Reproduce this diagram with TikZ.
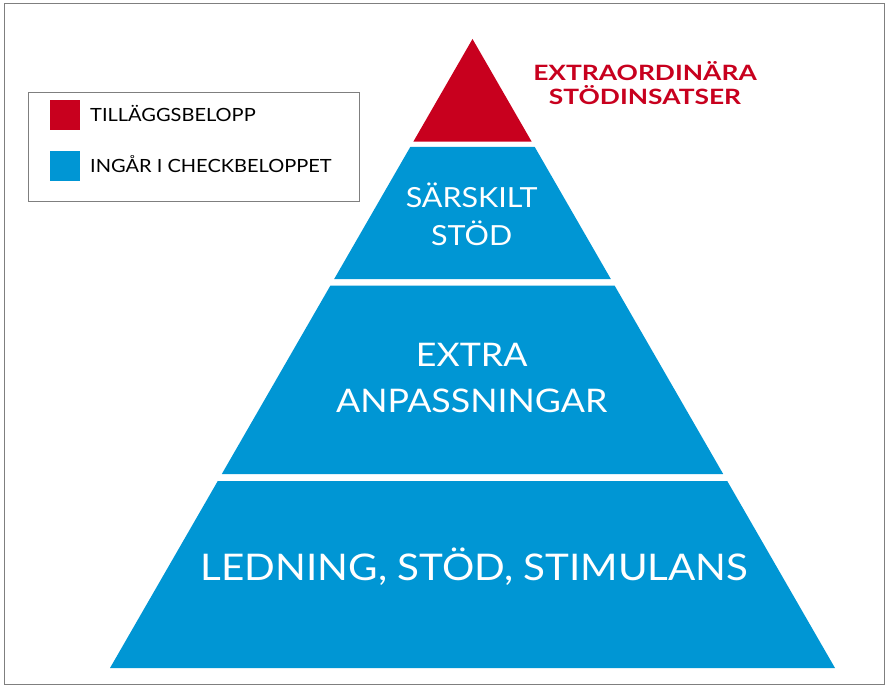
\documentclass[tikz,border=0pt]{standalone}
\usepackage{fontspec}
\setmainfont[FakeStretch=1.1]{Lato}
\newfontfamily\titlefont[FakeStretch=1.25]{Lato}
\usetikzlibrary{positioning}
\definecolor{pyrred}{HTML}{C8001E}
\definecolor{pyrblue}{HTML}{0096D4}
\definecolor{framegray}{HTML}{7F7F7F}
\newcommand\tightlines{\setlength{\lineskiplimit}{-50pt}}

\begin{document}
\begin{tikzpicture}[
    x=1pt, y=-1pt,
    band/.style={fill=pyrblue},
    bandtext/.style={text=white, align=center, anchor=base, inner sep=0pt},
    keybox/.style={rectangle, minimum size=30pt, inner sep=0pt},
    keytext/.style={anchor=base west, inner sep=0pt, font=\fontsize{18.2}{20}\selectfont}
]
\useasboundingbox (0,0) rectangle (890,687);
\fill[white] (0,0) rectangle (890,687);
\draw[framegray, line width=1pt] (4,4) rectangle (884,684);

% pyramid: apex (472.5,39), slope 0.5763 per unit of height
\fill[pyrred] (472.5,39) -- ({472.5+0.5763*102.7},141.7) -- ({472.5-0.5763*102.7},141.7) -- cycle;
\foreach \t/\b in {147/279, 285.7/474, 481/668} {
  \fill[band] ({472.5-0.5763*(\t-39)},\t) -- ({472.5+0.5763*(\t-39)},\t)
    -- ({472.5+0.5763*(\b-39)},\b) -- ({472.5-0.5763*(\b-39)},\b) -- cycle;
}

% base anchor sits on the last line
\node[bandtext, font=\fontsize{27.7}{37.3}\selectfont\tightlines] (sarskilt) at (471.7,245) {SÄRSKILT\\STÖD};
\node[bandtext, font=\fontsize{32.5}{45.6}\selectfont\tightlines] (extra) at (471.7,412.3) {EXTRA\\ANPASSNINGAR};
\node[bandtext, font=\fontsize{36.7}{40}\selectfont] (ledning) at (474.5,580.7) {LEDNING, STÖD, STIMULANS};
\node[bandtext, text=pyrred, font=\titlefont\bfseries\fontsize{21.1}{24}\selectfont\tightlines] (extraord) at (645,105) {EXTRAORDINÄRA\\STÖDINSATSER};

% legend
\draw[framegray, line width=1pt] (28.3,92.3) rectangle (359,201);
\node[keybox, fill=pyrred] (keyred) at (65,115.5) {};
\node[keybox, fill=pyrblue] (keyblue) at (65,166) {};
\node[keytext] (tillagg) at (90,121.7) {TILLÄGGSBELOPP};
\node[keytext] (ingar) at (90,172) {INGÅR I CHECKBELOPPET};
\end{tikzpicture}
\end{document}
